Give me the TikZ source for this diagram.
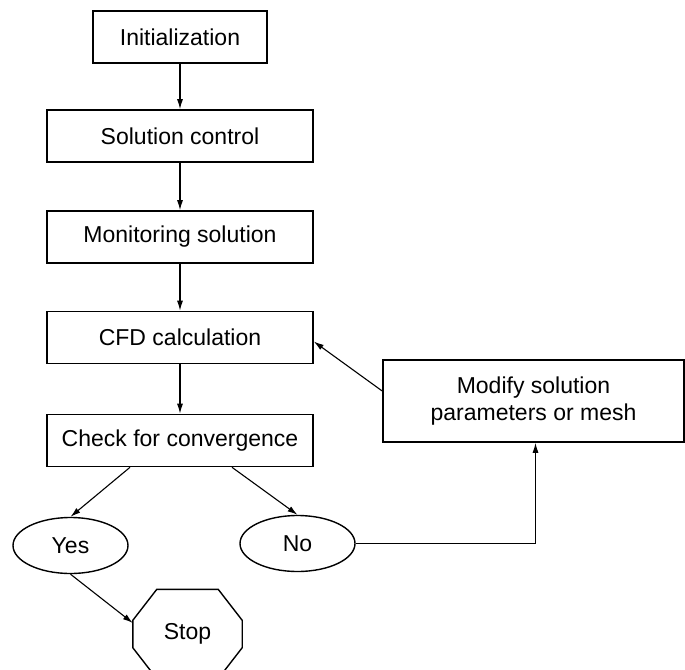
\documentclass[tikz,border=0pt]{standalone}
\usepackage{fontspec}
\setmainfont{Liberation Sans}
\usetikzlibrary{arrows.meta,shapes.geometric}
\begin{document}
\begin{tikzpicture}[x=1pt,y=-1pt,
  every node/.style={font=\fontsize{23}{27}\selectfont, inner sep=0pt},
  stepbox/.style={draw, line width=1.6pt, minimum height=52pt},
  answer/.style={ellipse, draw, line width=1.4pt, minimum width=115pt, minimum height=56pt},
  link/.style={line width=1.1pt, -{Latex[length=10pt,width=6pt]}},
  octo/.style={line width=1.4pt, line join=miter}]
\useasboundingbox (0,0) rectangle (685,669);

% main sequence of steps
\node[stepbox, minimum width=174pt] (init)    at (180,37)  {Initialization};
\node[stepbox, minimum width=266pt] (solctl)  at (180,136) {Solution control};
\node[stepbox, minimum width=266pt] (monitor) at (180,237) {Monitoring solution};
\node[stepbox, minimum width=266pt] (cfd)     at (180,337.5) {CFD calculation};
\node[stepbox, minimum width=266pt] (check)   at (180,440.5) {Check for convergence};

% feedback box
\node[stepbox, minimum width=301pt, minimum height=82pt, align=center]
  (modify) at (533.5,401) {Modify solution\\parameters or mesh};

% outcomes
\node[answer] (yes) at (70.5,545.5) {Yes};
\node[answer] (no)  at (297.5,543.5) {No};

% stop sign (octagon drawn round the node)
\node[minimum width=109pt, minimum height=89pt] (stop) at (187.5,634) {Stop};
\draw[octo]
  ([xshift=24pt]stop.north west) -- ([xshift=-24pt]stop.north east)
  -- ([yshift=-31pt]stop.north east) -- ([yshift=31pt]stop.south east)
  -- ([xshift=-24pt]stop.south east) -- ([xshift=24pt]stop.south west)
  -- ([yshift=31pt]stop.south west) -- ([yshift=-31pt]stop.north west)
  -- cycle;

% connectors
\draw[link] (init) -- (solctl);
\draw[link] (solctl) -- (monitor);
\draw[link] (monitor) -- (cfd);
\draw[link] (cfd) -- (check);
\draw[link] ([xshift=-50pt]check.south) -- (yes.north);
\draw[link] ([xshift=52pt]check.south) -- (no.north);
\draw[link] (yes.south) -- ([yshift=11pt]stop.west);
\draw[link] (no.east) -| ([xshift=2pt]modify.south);
\draw[link] ([yshift=10pt]modify.west) -- ([yshift=-4pt]cfd.east);
\end{tikzpicture}
\end{document}
